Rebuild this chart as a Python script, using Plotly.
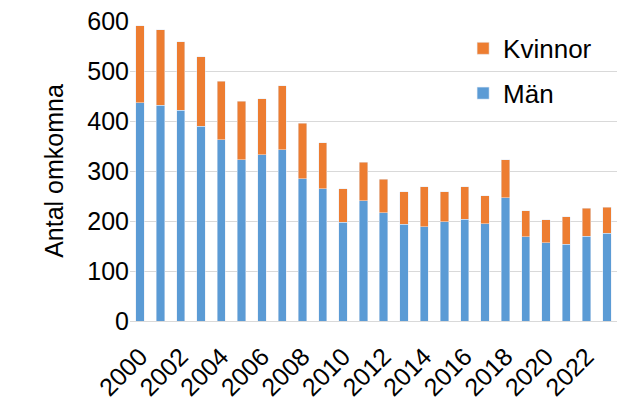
import plotly.graph_objects as go

years = list(range(2000, 2024))
totals = [591, 583, 559, 529, 480, 440, 445, 471, 396, 357, 265, 318,
          284, 259, 269, 259, 269, 251, 323, 221, 203, 209, 226, 228]
man = [437, 432, 422, 390, 363, 323, 333, 343, 285, 265, 198, 241,
       217, 194, 189, 199, 204, 195, 247, 169, 157, 154, 170, 176]
kvinnor = [t - m for t, m in zip(totals, man)]
tick_years = list(range(2000, 2023, 2))

font = "Liberation Sans, Arial, sans-serif"

fig = go.Figure()
fig.add_trace(go.Bar(x=years, y=man, name="Män", marker_color="#5B9BD5",
                     legendgroup="m", legendrank=2))
fig.add_trace(go.Bar(x=years, y=kvinnor, name="Kvinnor", marker_color="#ED7D31",
                     legendgroup="k", legendrank=1))

fig.update_layout(
    width=624, height=414,
    barmode="stack", bargap=0.59,
    plot_bgcolor="white", paper_bgcolor="white",
    margin=dict(l=130, r=7, t=21, b=93),
    font=dict(family=font, size=24, color="#000000"),
    showlegend=True,
    legend=dict(x=0.684, y=0.987, xanchor="left", yanchor="top",
                traceorder="grouped", tracegroupgap=8,
                font=dict(size=26), bgcolor="rgba(0,0,0,0)"),
    xaxis=dict(tickmode="array", tickvals=tick_years,
               ticktext=[str(y) for y in tick_years],
               tickangle=-45, range=[1999.5, 2023.5],
               showline=True, linecolor="#D9D9D9", linewidth=1,
               showgrid=False, ticks="outside", ticklen=10,
               tickcolor="rgba(0,0,0,0)", tickfont=dict(size=25)),
    yaxis=dict(range=[0, 600], dtick=100, showgrid=True, gridcolor="#D9D9D9",
               gridwidth=1, zeroline=False, ticks="", tickfont=dict(size=25),
               title=dict(text="Antal omkomna", font=dict(size=25), standoff=16)),
)

fig.write_html("out.html")
